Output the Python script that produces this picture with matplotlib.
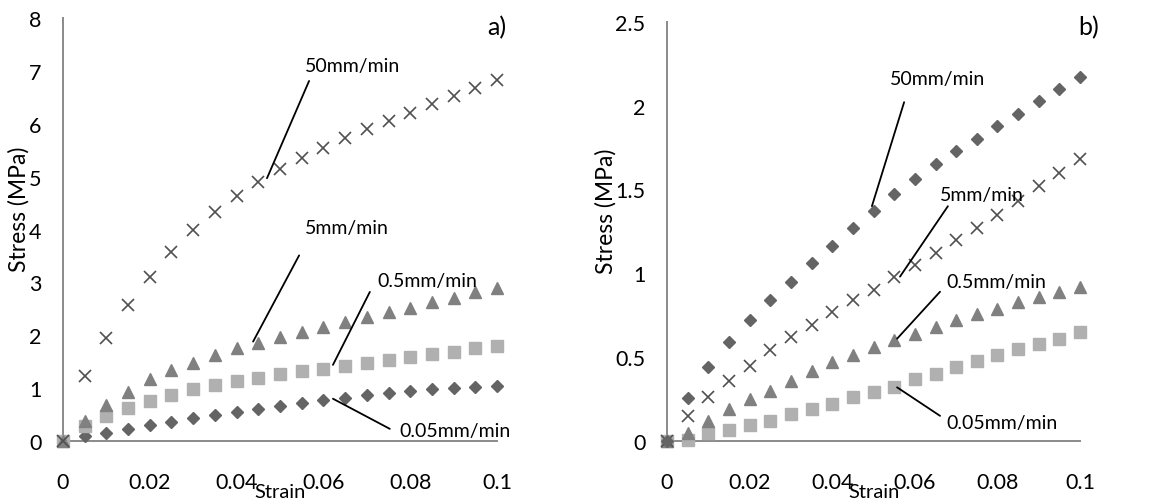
import matplotlib
matplotlib.use("Agg")
import matplotlib.pyplot as plt

plt.rcParams['font.family'] = ['Lato', 'DejaVu Sans']

strain = [0, 0.005, 0.01, 0.015, 0.02, 0.025, 0.03, 0.035, 0.04, 0.045, 0.05,
          0.055, 0.06, 0.065, 0.07, 0.075, 0.08, 0.085, 0.09, 0.095, 0.1]

# Panel a)
a_50 = [0, 1.23, 1.94, 2.57, 3.10, 3.58, 3.99, 4.33, 4.64, 4.90, 5.15,
        5.36, 5.55, 5.73, 5.90, 6.06, 6.21, 6.37, 6.52, 6.67, 6.83]
a_5 = [0, 0.38, 0.68, 0.93, 1.17, 1.34, 1.48, 1.62, 1.75, 1.86, 1.96,
       2.07, 2.15, 2.25, 2.35, 2.44, 2.52, 2.62, 2.71, 2.81, 2.90]
a_05 = [0, 0.28, 0.48, 0.63, 0.76, 0.87, 0.98, 1.05, 1.13, 1.20, 1.26,
        1.32, 1.37, 1.42, 1.48, 1.53, 1.58, 1.64, 1.69, 1.75, 1.79]
a_005 = [0, 0.09, 0.16, 0.22, 0.30, 0.36, 0.43, 0.49, 0.54, 0.60, 0.66,
         0.71, 0.77, 0.82, 0.87, 0.91, 0.95, 0.98, 1.01, 1.02, 1.04]

# Panel b)
b_50 = [0, 0.255, 0.44, 0.59, 0.72, 0.84, 0.95, 1.06, 1.16, 1.27, 1.37,
        1.47, 1.56, 1.65, 1.73, 1.80, 1.88, 1.95, 2.03, 2.10, 2.17]
b_5 = [0, 0.15, 0.26, 0.36, 0.45, 0.54, 0.62, 0.69, 0.77, 0.84, 0.90,
       0.98, 1.05, 1.12, 1.20, 1.27, 1.35, 1.43, 1.52, 1.60, 1.68]
b_05 = [0, 0.05, 0.12, 0.19, 0.25, 0.30, 0.36, 0.42, 0.47, 0.51, 0.56,
        0.60, 0.64, 0.68, 0.72, 0.76, 0.79, 0.83, 0.86, 0.89, 0.92]
b_005 = [0, 0.005, 0.045, 0.065, 0.095, 0.12, 0.16, 0.19, 0.22, 0.26, 0.29,
         0.32, 0.37, 0.40, 0.44, 0.48, 0.51, 0.55, 0.58, 0.61, 0.65]

x_ticks = [0, 0.02, 0.04, 0.06, 0.08, 0.1]
x_ticklabels = ["0", "0.02", "0.04", "0.06", "0.08", "0.1"]
a_yticks = [0, 1, 2, 3, 4, 5, 6, 7, 8]
a_yticklabels = ["0", "1", "2", "3", "4", "5", "6", "7", "8"]
b_yticks = [0, 0.5, 1, 1.5, 2, 2.5]
b_yticklabels = ["0", "0.5", "1", "1.5", "2", "2.5"]

C_DIAM = '#646464'
C_TRI = '#808080'
C_SQ = '#b0b0b0'
C_X = '#505050'
SPINE = '#8a8a8a'

fig = plt.figure(figsize=(11.75, 5.02), dpi=100)
axA = fig.add_axes([0.0536, 0.1195, 0.3694, 0.8426])
axB = fig.add_axes([0.5677, 0.1195, 0.3515, 0.8353])


def plot_series(ax, series):
    for vals, kind in series:
        if kind == 'D':
            ax.plot(strain, vals, 'D', color=C_DIAM, ms=6.0, mec=C_DIAM, clip_on=False, zorder=3)
        elif kind == '^':
            ax.plot(strain, vals, '^', color=C_TRI, ms=8.8, mec=C_TRI, clip_on=False, zorder=3)
        elif kind == 's':
            ax.plot(strain, vals, 's', color=C_SQ, ms=8.0, mec=C_SQ, clip_on=False, zorder=3)
        elif kind == 'x':
            ax.plot(strain, vals, 'x', color=C_X, ms=8, mew=1.2, clip_on=False, zorder=3)


def style(ax, ymax, yticks, yticklabels):
    ax.set_xlim(0, 0.1)
    ax.set_ylim(0, ymax)
    ax.spines['top'].set_visible(False)
    ax.spines['right'].set_visible(False)
    for s in ['left', 'bottom']:
        ax.spines[s].set_color(SPINE)
        ax.spines[s].set_linewidth(1.4)
    ax.set_xticks(x_ticks)
    ax.set_xticklabels(x_ticklabels)
    ax.set_yticks(yticks)
    ax.set_yticklabels(yticklabels)
    ax.tick_params(axis='both', length=0, labelsize=15.5, colors='black')
    ax.tick_params(axis='x', pad=22)
    ax.tick_params(axis='y', pad=15.5)
    ax.set_xlabel("Strain", fontsize=14.5, labelpad=-6)
    ax.set_ylabel("Stress (MPa)", fontsize=16.5)


def label(ax, text, xy, line_start, text_pos):
    ax.annotate("", xy=xy, xytext=line_start,
                arrowprops=dict(arrowstyle='-', color='black', lw=1.3, shrinkA=0, shrinkB=0))
    ax.text(text_pos[0], text_pos[1], text, fontsize=14, ha='left', va='center')


plot_series(axA, [(a_005, 'D'), (a_05, 's'), (a_5, '^'), (a_50, 'x')])
style(axA, 8, a_yticks, a_yticklabels)
axA.yaxis.set_label_coords(-0.076, 0.55)
axA.text(1.0, 0.979, "a)", transform=axA.transAxes, fontsize=18, ha='center', va='center')

plot_series(axB, [(b_005, 's'), (b_05, '^'), (b_5, 'x'), (b_50, 'D')])
style(axB, 2.5, b_yticks, b_yticklabels)
axB.yaxis.set_label_coords(-0.121, 0.55)
axB.text(1.02, 0.988, "b)", transform=axB.transAxes, fontsize=18, ha='center', va='center')

label(axA, "50mm/min", (0.047, 4.97), (0.0567, 6.81), (0.0558, 7.11))
label(axA, "5mm/min", (0.0438, 1.88), (0.0544, 3.51), (0.0558, 4.04))
label(axA, "0.5mm/min", (0.0622, 1.44), (0.0707, 2.82), (0.0724, 3.03))
label(axA, "0.05mm/min", (0.0622, 0.80), (0.0753, 0.23), (0.0776, 0.19))

label(axB, "50mm/min", (0.0496, 1.40), (0.0574, 2.02), (0.054, 2.16))
label(axB, "5mm/min", (0.0564, 0.98), (0.068, 1.40), (0.0661, 1.47))
label(axB, "0.5mm/min", (0.0557, 0.61), (0.0661, 0.89), (0.0676, 0.95))
label(axB, "0.05mm/min", (0.0557, 0.32), (0.0661, 0.15), (0.0676, 0.11))

fig.savefig("out.png", dpi=100)
